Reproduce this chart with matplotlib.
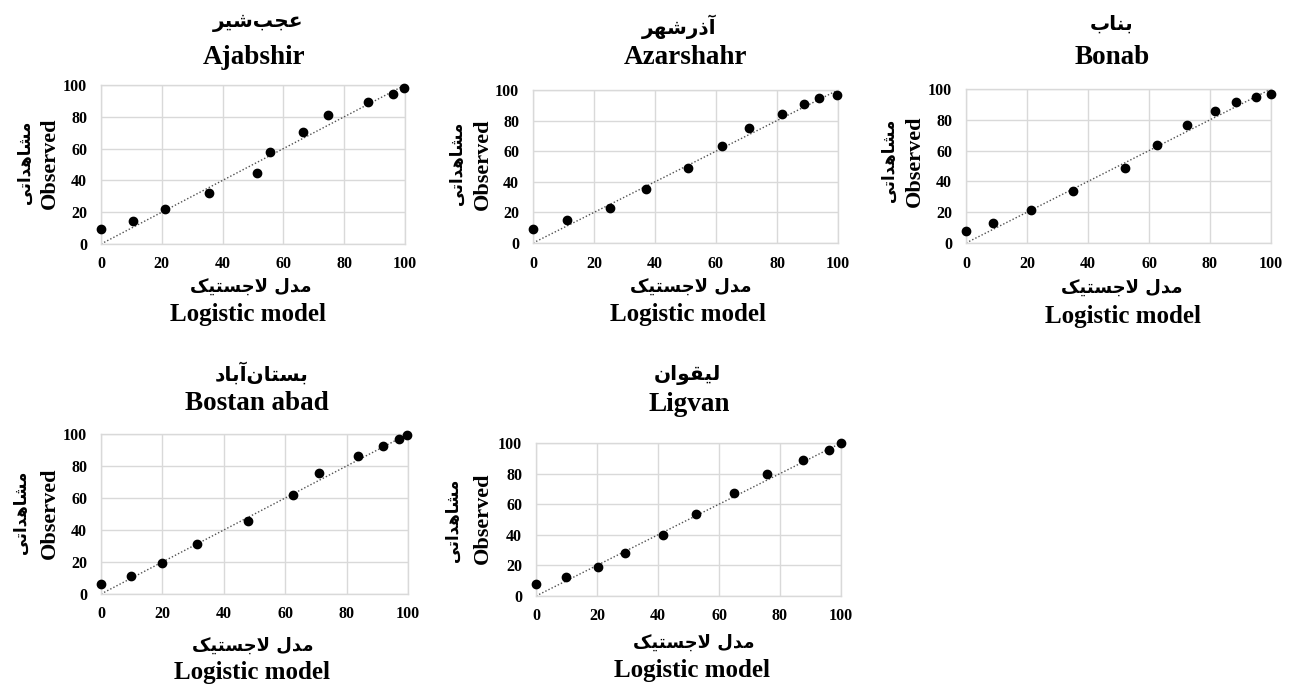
import matplotlib
matplotlib.use("Agg")
import matplotlib.pyplot as plt

# ---------------- data ----------------
titles_fa = ["عجب‌شیر", "آذرشهر", "بناب", "بستان‌آباد", "لیقوان"]
titles_en = ["Ajabshir", "Azarshahr", "Bonab", "Bostan abad", "Ligvan"]
xlabel_fa = "مدل لاجستیک"
xlabel_en = "Logistic model"
ylabel_fa = "مشاهداتی"
ylabel_en = "Observed"
ticks = [0, 20, 40, 60, 80, 100]
diag = [0, 100]

ajabshir_x = [0, 10.4, 20.9, 35.5, 51.3, 55.7, 66.5, 74.7, 87.9, 95.9, 99.8]
ajabshir_y = [9.4, 14.2, 22.0, 32.0, 44.4, 57.7, 70.3, 81.2, 89.3, 94.6, 98.3]
azarshahr_x = [0, 11.3, 25.1, 37.2, 50.8, 62.1, 70.8, 81.5, 88.7, 93.8, 99.7]
azarshahr_y = [9.2, 14.8, 23.1, 35.2, 48.7, 63.3, 75.1, 84.1, 90.7, 94.6, 96.6]
bonab_x = [0, 9.0, 21.4, 35.0, 52.2, 62.7, 72.5, 81.8, 88.5, 95.2, 99.9]
bonab_y = [7.8, 13.3, 21.7, 33.7, 48.5, 63.9, 76.3, 85.9, 91.3, 94.8, 96.7]
bostan_x = [0, 9.8, 19.8, 31.2, 47.9, 62.6, 70.9, 83.8, 91.7, 97.0, 99.7]
bostan_y = [6.3, 11.0, 19.4, 31.3, 45.8, 61.9, 75.6, 86.0, 92.7, 97.1, 99.2]
ligvan_x = [0, 9.7, 20.2, 29.2, 41.6, 52.4, 64.9, 75.9, 87.4, 96.0, 99.9]
ligvan_y = [7.6, 12.2, 19.1, 28.3, 40.0, 53.9, 67.2, 79.6, 89.1, 95.7, 100.0]

series_x = [ajabshir_x, azarshahr_x, bonab_x, bostan_x, ligvan_x]
series_y = [ajabshir_y, azarshahr_y, bonab_y, bostan_y, ligvan_y]

# ---------------- minimal Persian shaping ----------------
FORMS = {
    'ا': ('\uFE8D', '\uFE8E', None, None),
    'آ': ('\uFE81', '\uFE82', None, None),
    'ب': ('\uFE8F', '\uFE90', '\uFE91', '\uFE92'),
    'ت': ('\uFE95', '\uFE96', '\uFE97', '\uFE98'),
    'ج': ('\uFE9D', '\uFE9E', '\uFE9F', '\uFEA0'),
    'د': ('\uFEA9', '\uFEAA', None, None),
    'ذ': ('\uFEAB', '\uFEAC', None, None),
    'ر': ('\uFEAD', '\uFEAE', None, None),
    'س': ('\uFEB1', '\uFEB2', '\uFEB3', '\uFEB4'),
    'ش': ('\uFEB5', '\uFEB6', '\uFEB7', '\uFEB8'),
    'ع': ('\uFEC9', '\uFECA', '\uFECB', '\uFECC'),
    'ق': ('\uFED5', '\uFED6', '\uFED7', '\uFED8'),
    'ک': ('\uFB8E', '\uFB8F', '\uFB90', '\uFB91'),
    'ل': ('\uFEDD', '\uFEDE', '\uFEDF', '\uFEE0'),
    'م': ('\uFEE1', '\uFEE2', '\uFEE3', '\uFEE4'),
    'ن': ('\uFEE5', '\uFEE6', '\uFEE7', '\uFEE8'),
    'ه': ('\uFEE9', '\uFEEA', '\uFEEB', '\uFEEC'),
    'و': ('\uFEED', '\uFEEE', None, None),
    'ی': ('\uFEEF', '\uFEF0', '\uFEF3', '\uFEF4'),
}


def dual(c):
    return c in FORMS and FORMS[c][2] is not None


def shape(text):
    chars = list(text)
    out = []
    i = 0
    n = len(chars)
    while i < n:
        c = chars[i]
        if c not in FORMS:
            out.append('' if c == '\u200c' else c)
            i += 1
            continue
        prev = chars[i - 1] if i > 0 else None
        jp = prev is not None and dual(prev)
        if c == 'ل' and i + 1 < n and chars[i + 1] in ('ا', 'آ'):
            if chars[i + 1] == 'ا':
                out.append('\uFEFC' if jp else '\uFEFB')
            else:
                out.append('\uFEF6' if jp else '\uFEF5')
            i += 2
            continue
        nxt = chars[i + 1] if i + 1 < n else None
        jn = dual(c) and nxt is not None and nxt in FORMS
        iso, fin, ini, med = FORMS[c]
        if jp and jn:
            out.append(med)
        elif jp:
            out.append(fin)
        elif jn:
            out.append(ini)
        else:
            out.append(iso)
        i += 1
    return ''.join(out)[::-1]


EN = ['Liberation Serif', 'DejaVu Serif']
FA = ['DejaVu Sans']

# ---------------- layout (pixel units of a 1293x684 canvas) ----------------
W, H = 1293, 684
fig = plt.figure(figsize=(W / 100, H / 100), dpi=100)
fig.patch.set_facecolor('white')

panels = [
    dict(ax=(101, 405, 85, 244), tfa=(258, 22), ten=(254, 57), xfa=(251, 287), xen=(248, 315), yfa=(25, 162), yen=(50, 163)),
    dict(ax=(533, 838, 90, 243), tfa=(679, 27), ten=(685, 57), xfa=(691, 287), xen=(688, 315), yfa=(457, 163), yen=(483, 164)),
    dict(ax=(966, 1271, 89, 243), tfa=(1112, 24), ten=(1112, 57), xfa=(1122, 288), xen=(1123, 316), yfa=(889, 160), yen=(915, 161)),
    dict(ax=(101, 408, 434, 594), tfa=(262, 373), ten=(257, 404), xfa=(253, 646), xen=(252, 672), yfa=(21, 512), yen=(50, 513)),
    dict(ax=(536, 841, 443, 596), tfa=(687, 375), ten=(689, 405), xfa=(694, 643), xen=(692, 670), yfa=(453, 520), yen=(483, 518)),
]


def fx(px):
    return px / W


def fy(py):
    return 1 - py / H


for k, p in enumerate(panels):
    l, r, t, b = p['ax']
    ax = fig.add_axes([fx(l), fy(b), (r - l) / W, (b - t) / H])
    ax.set_xlim(0, 100)
    ax.set_ylim(0, 100)
    ax.set_xticks(ticks)
    ax.set_yticks(ticks)
    ax.set_xticklabels([str(v) for v in ticks])
    ax.set_yticklabels([str(v) for v in ticks])
    ax.grid(True, color='#d9d9d9', linewidth=1.0)
    ax.set_axisbelow(True)
    for s in ax.spines.values():
        s.set_color('#d9d9d9')
        s.set_linewidth(1.0)
    ax.tick_params(length=0, labelsize=11.5)
    ax.tick_params(axis='y', pad=10)
    ax.tick_params(axis='x', pad=9)
    for lab in ax.get_xticklabels() + ax.get_yticklabels():
        lab.set_family(EN)
        lab.set_fontweight('bold')
    ax.plot(diag, diag, color='#505050', linestyle=(0, (1, 1.5)), linewidth=1.0, zorder=2)
    ax.scatter(series_x[k], series_y[k], s=36, color='black', zorder=3, clip_on=False)

    fig.text(fx(p['tfa'][0]), fy(p['tfa'][1]), shape(titles_fa[k]), family=FA, weight='bold',
             fontsize=14.5, ha='center', va='center')
    fig.text(fx(p['ten'][0]), fy(p['ten'][1]), titles_en[k], family=EN, weight='bold',
             fontsize=19.5, ha='center', va='center')
    fig.text(fx(p['xfa'][0]), fy(p['xfa'][1]), shape(xlabel_fa), family=FA, weight='bold',
             fontsize=13, ha='center', va='center')
    fig.text(fx(p['xen'][0]), fy(p['xen'][1]), xlabel_en, family=EN, weight='bold',
             fontsize=18, ha='center', va='center')
    fig.text(fx(p['yfa'][0]), fy(p['yfa'][1]), shape(ylabel_fa), family=FA, weight='bold',
             fontsize=12, ha='center', va='center', rotation=90)
    fig.text(fx(p['yen'][0]), fy(p['yen'][1]), ylabel_en, family=EN, weight='bold',
             fontsize=16, ha='center', va='center', rotation=90)

fig.savefig('out.png', dpi=100, facecolor='white')
